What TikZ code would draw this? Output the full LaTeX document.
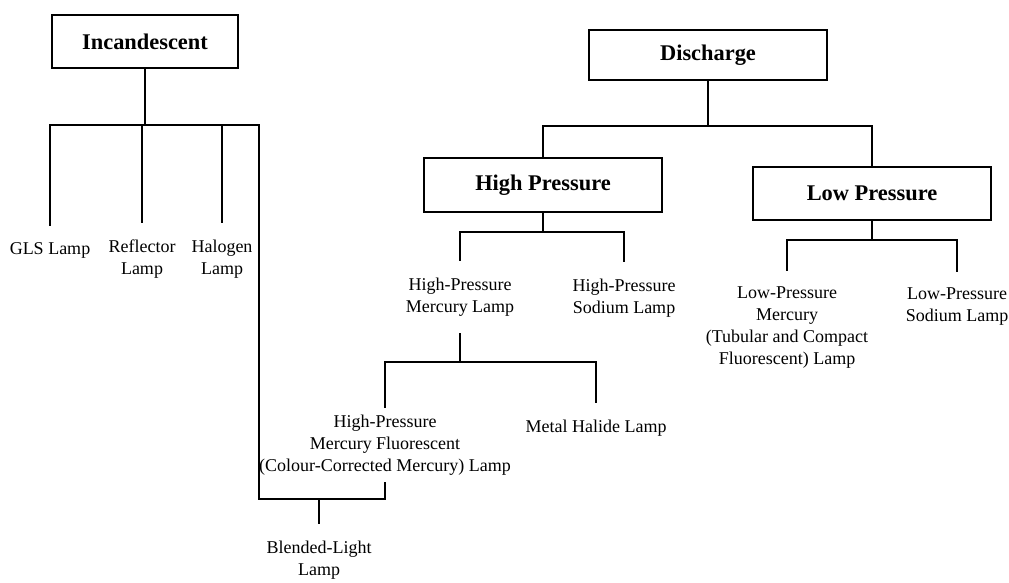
\documentclass[tikz,border=0pt]{standalone}
\usepackage{fontspec}
\setmainfont{Liberation Serif}
\usepackage{tikz}
\usetikzlibrary{positioning}

\begin{document}
\begin{tikzpicture}[
  x=0.75pt, y=-0.75pt,
  every node/.style={align=center},
  box/.style={rectangle, draw=black, line width=1.4pt, fill=white,
              font=\fontsize{16.8}{20}\selectfont\bfseries,
              minimum width=178pt, minimum height=40pt, inner sep=2pt},
  leaf/.style={font=\fontsize{13.5}{16.5}\selectfont, inner sep=0pt,
               outer xsep=0pt, outer ysep=13pt},
  link/.style={line width=1.3pt, line cap=rect}
]
\useasboundingbox (0,0) rectangle (1009,582);

\node[box, minimum width=139pt] (inc) at (145,41.5) {Incandescent};
\node[box, minimum height=37.5pt] (dis) at (708,55) {Discharge};
\node[box] (hp) at (543,185) {High Pressure};
\node[box] (lp) at (872,193.5) {Low Pressure};

\node[leaf] (gls)   at (50,250)  {GLS Lamp};
\node[leaf] (refl)  at (142,259) {Reflector\\Lamp};
\node[leaf] (hal)   at (222,259) {Halogen\\Lamp};
\node[leaf] (hpm)   at (460,297) {High-Pressure\\Mercury Lamp};
\node[leaf] (hps)   at (624,298) {High-Pressure\\Sodium Lamp};
\node[leaf] (lpm)   at (787,328) {Low-Pressure\\Mercury\\(Tubular and Compact\\Fluorescent) Lamp};
\node[leaf] (lps)   at (957,307) {Low-Pressure\\Sodium Lamp};
\node[leaf, outer ysep=6pt] (hpmf) at (385,445) {High-Pressure\\Mercury Fluorescent\\(Colour-Corrected Mercury) Lamp};
\node[leaf] (mh)    at (596,428) {Metal Halide Lamp};
\node[leaf] (blend) at (319,560) {Blended-Light\\Lamp};

\coordinate (incbar) at (145,125);
\coordinate (disbar) at (708,126);
\coordinate (hpbar)  at (543,232);
\coordinate (lpbar)  at (872,240);
\coordinate (hgbar)  at (460,362);
\coordinate (brk)    at (259,499);

\draw[link] (inc.south) -- (incbar);
\draw[link] (gls.north) |- (incbar) -| (hal.north);
\draw[link] (refl.north) -- (refl.north |- incbar);
\draw[link] (hal.north |- incbar) -| (brk) -| (hpmf.south);
\draw[link] (blend.north) -- (blend.north |- brk);

\draw[link] (dis.south) -- (disbar);
\draw[link] (hp.north) |- (disbar) -| (lp.north);
\draw[link] (hp.south) -- (hpbar);
\draw[link] (hpm.north) |- (hpbar) -| (hps.north);
\draw[link] (hpm.south) -- (hgbar);
\draw[link] (hpmf.north) |- (hgbar) -| (mh.north);
\draw[link] (lp.south) -- (lpbar);
\draw[link] (lpm.north) |- (lpbar) -| (lps.north);
\end{tikzpicture}
\end{document}
